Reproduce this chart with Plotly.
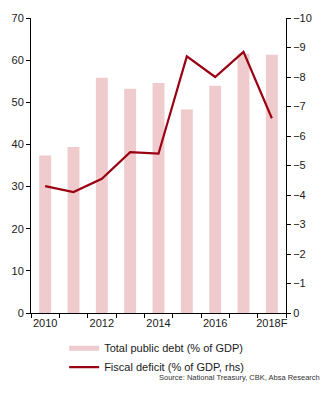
import plotly.graph_objects as go

years = ["2010", "2011", "2012", "2013", "2014", "2015", "2016", "2017", "2018F"]
public_debt = [37.4, 39.4, 55.8, 53.2, 54.6, 48.3, 53.9, 61.5, 61.3]
fiscal_deficit = [-4.3, -4.1, -4.55, -5.45, -5.4, -8.7, -8.0, -8.85, -6.6]
label_years = ["2010", "2012", "2014", "2016", "2018F"]

BAR_COLOR = "#F0CBCD"
LINE_COLOR = "#990012"
FONT = "Liberation Sans, Arial, sans-serif"

x_idx = list(range(len(years)))
label_idx = [years.index(y) for y in label_years]

fig = go.Figure()
fig.add_trace(go.Bar(
    x=x_idx, y=public_debt, width=0.42, marker=dict(color=BAR_COLOR, line=dict(width=0)),
    name="Total public debt (% of GDP)", showlegend=False, yaxis="y",
))
fig.add_trace(go.Scatter(
    x=x_idx, y=fiscal_deficit, mode="lines", line=dict(color=LINE_COLOR, width=2.2),
    name="Fiscal deficit (% of GDP, rhs)", showlegend=False, yaxis="y2",
))
# legend-only entries with flat swatches
fig.add_trace(go.Scatter(
    x=[None], y=[None], mode="lines", line=dict(color=BAR_COLOR, width=5),
    name="Total public debt (% of GDP)",
))
fig.add_trace(go.Scatter(
    x=[None], y=[None], mode="lines", line=dict(color=LINE_COLOR, width=2.2),
    name="Fiscal deficit (% of GDP, rhs)",
))

axis_common = dict(showgrid=False, zeroline=False, showline=True, linecolor="black",
                   linewidth=1, ticks="outside", tickcolor="black", ticklen=4,
                   tickfont=dict(family=FONT, size=11, color="#1a1a1a"))

fig.update_layout(
    width=335, height=395,
    margin=dict(l=29, r=49, t=12, b=82),
    plot_bgcolor="white", paper_bgcolor="white",
    xaxis=dict(
        range=[-0.5, len(years) - 0.5], tickvals=label_idx, ticktext=label_years,
        showgrid=False, zeroline=False, showline=True, linecolor="black", linewidth=1,
        ticks="", tickfont=dict(family=FONT, size=11, color="#1a1a1a"),
        minor=dict(tick0=-0.5, dtick=1, ticks="outside", ticklen=4, tickcolor="black"),
    ),
    yaxis=dict(range=[0, 70], dtick=10, **axis_common),
    yaxis2=dict(range=[0, -10], dtick=1, overlaying="y", side="right", **axis_common),
    legend=dict(
        x=0.13, y=-0.07, xanchor="left", yanchor="top", orientation="v",
        font=dict(family=FONT, size=11, color="#1a1a1a"), tracegroupgap=0,
        itemwidth=30, bgcolor="rgba(0,0,0,0)",
    ),
    annotations=[dict(
        text="Source: National Treasury, CBK, Absa Research", xref="paper", yref="paper",
        x=1.14, y=-0.195, xanchor="right", yanchor="top", showarrow=False,
        font=dict(family=FONT, size=7.5, color="#333333"),
    )],
)

fig.write_html("out.html")
